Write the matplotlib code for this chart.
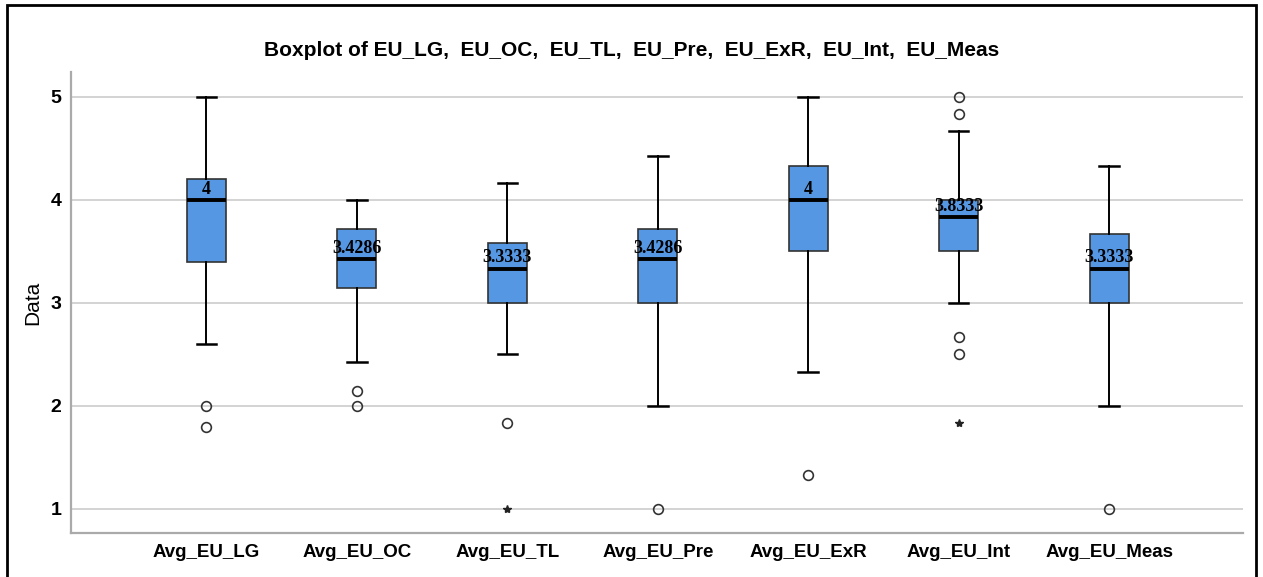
import matplotlib
matplotlib.use('Agg')
import matplotlib.pyplot as plt
from matplotlib.patches import Rectangle

# values
labels = ['Avg_EU_LG', 'Avg_EU_OC', 'Avg_EU_TL', 'Avg_EU_Pre',
          'Avg_EU_ExR', 'Avg_EU_Int', 'Avg_EU_Meas']
medians = [4.0, 3.4286, 3.3333, 3.4286, 4.0, 3.8333, 3.3333]
q1 = [3.4, 3.1429, 3.0, 3.0, 3.5, 3.5, 3.0]
q3 = [4.2, 3.7143, 3.5833, 3.7143, 4.3333, 4.0, 3.6667]
whis_lo = [2.6, 2.4286, 2.5, 2.0, 2.3333, 3.0, 2.0]
whis_hi = [5.0, 4.0, 4.1667, 4.4286, 5.0, 4.6667, 4.3333]
outliers = [[2.0, 1.8], [2.1429, 2.0], [1.8333], [1.0], [1.3333],
            [5.0, 4.8333, 2.6667, 2.5], [1.0]]
extremes = [[], [], [1.0], [], [], [1.8333], []]

plt.rcParams['font.family'] = ['Liberation Sans', 'DejaVu Sans']

fig = plt.figure(figsize=(12.63, 5.77), dpi=100)
ax = fig.add_axes([0.0562, 0.0763, 0.928, 0.7987])

stats = []
for i in range(len(labels)):
    stats.append({'med': medians[i], 'q1': q1[i], 'q3': q3[i],
                  'whislo': whis_lo[i], 'whishi': whis_hi[i],
                  'fliers': outliers[i], 'label': labels[i]})

pos = list(range(1, len(labels) + 1))
ax.bxp(stats, positions=pos, widths=0.26, patch_artist=True,
       boxprops=dict(facecolor='#5597e2', edgecolor='#333333', linewidth=1.2),
       medianprops=dict(color='black', linewidth=2.8),
       whiskerprops=dict(color='black', linewidth=1.4),
       capprops=dict(color='black', linewidth=1.8),
       capwidths=0.13,
       flierprops=dict(marker='o', markerfacecolor='none',
                       markeredgecolor='#333333', markersize=7,
                       markeredgewidth=1.2))

for i in range(len(labels)):
    for v in extremes[i]:
        ax.plot(pos[i], v, marker='*', color='#222222', markersize=6,
                linestyle='none')
    txt = f"{medians[i]:.4f}".rstrip('0').rstrip('.')
    ax.annotate(txt, (pos[i], medians[i]), xytext=(0, 1.5),
                textcoords='offset points', ha='center', va='bottom',
                fontsize=13, fontweight='bold', family='Liberation Serif')

ax.set_xlim(0.1, 7.89)
ax.set_ylim(0.767, 5.24)
ax.set_yticks([1, 2, 3, 4, 5])
ax.set_yticklabels(['1', '2', '3', '4', '5'], fontsize=14, fontweight='bold')
ax.set_xticks(pos)
ax.set_xticklabels(labels, fontsize=13.5, fontweight='bold')
ax.tick_params(axis='both', length=0)
ax.tick_params(axis='x', pad=8)
ax.tick_params(axis='y', pad=7)
ax.grid(axis='y', color='#cccccc', linewidth=1.2)
ax.set_axisbelow(True)
for s in ['top', 'right']:
    ax.spines[s].set_visible(False)
for s in ['left', 'bottom']:
    ax.spines[s].set_color('#aaaaaa')
    ax.spines[s].set_linewidth(1.6)
ax.set_ylabel('Data', fontsize=15, labelpad=6)

fig.text(0.5, 0.912, 'Boxplot of EU_LG,  EU_OC,  EU_TL,  EU_Pre,  EU_ExR,  EU_Int,  EU_Meas',
         ha='center', va='center', fontsize=15, fontweight='bold')

# outer frame like the SPSS chart border
fig.patches.append(Rectangle((7 / 1263, -0.1), 1249 / 1263, 1.1 - 5 / 577,
                             transform=fig.transFigure, fill=False,
                             edgecolor='black', linewidth=2))

fig.savefig('out.png', dpi=100)
